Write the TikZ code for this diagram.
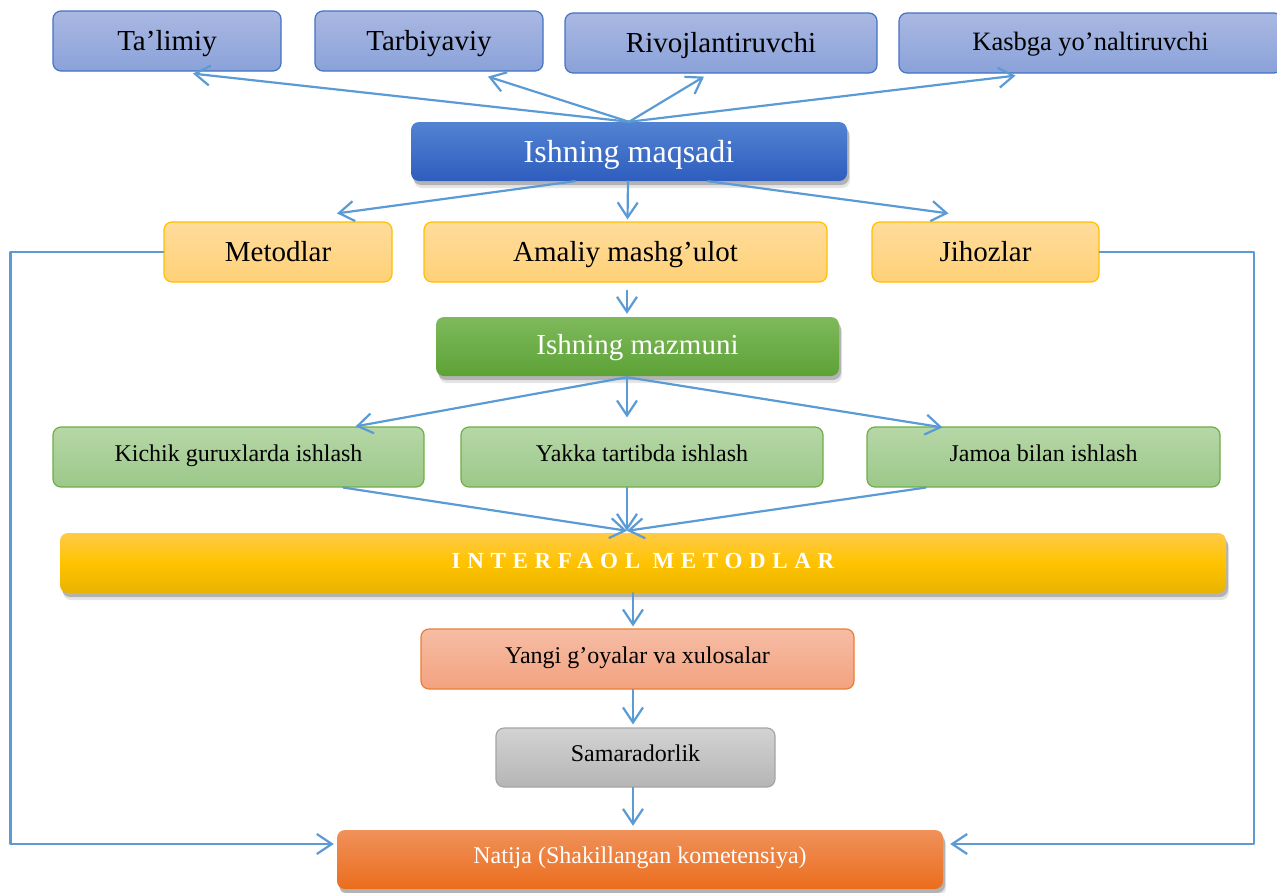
\documentclass[tikz,border=0pt]{standalone}
\usepackage{fontspec}
\setmainfont{Liberation Serif}
\usetikzlibrary{arrows.meta,shadows,calc}
\definecolor{arrowblue}{HTML}{5B9BD5}
\definecolor{lbtop}{HTML}{AAB8E2}
\definecolor{lbbot}{HTML}{8AA2D9}
\definecolor{lbdraw}{HTML}{4472C4}
\definecolor{dbtop}{HTML}{5283D2}
\definecolor{dbbot}{HTML}{2E5DBE}
\definecolor{ortop}{HTML}{FFDC9C}
\definecolor{orbot}{HTML}{FFD177}
\definecolor{ordraw}{HTML}{FFC000}
\definecolor{dgtop}{HTML}{7FB95C}
\definecolor{dgbot}{HTML}{5CA236}
\definecolor{lgtop}{HTML}{B6D7A7}
\definecolor{lgbot}{HTML}{9CC889}
\definecolor{lgdraw}{HTML}{70AD47}
\definecolor{ytop}{HTML}{FFCA48}
\definecolor{ymid}{HTML}{FFC300}
\definecolor{ybot}{HTML}{E8B200}
\definecolor{sntop}{HTML}{F5BDA5}
\definecolor{snbot}{HTML}{F4A27F}
\definecolor{sndraw}{HTML}{ED7D31}
\definecolor{grtop}{HTML}{D3D3D3}
\definecolor{grbot}{HTML}{B5B5B5}
\definecolor{grdraw}{HTML}{A5A5A5}
\definecolor{nttop}{HTML}{F0915A}
\definecolor{ntbot}{HTML}{EB6D1D}
\begin{document}
\begin{tikzpicture}[x=1pt,y=-1pt,
  box/.style={rounded corners=8pt, inner sep=0pt, align=center},
  bigtxt/.style={font=\fontsize{29}{34}\selectfont, text height=19.2pt, text depth=0pt},
  hugetxt/.style={font=\fontsize{32}{38}\selectfont, text height=21.2pt, text depth=0pt},
  smalltxt/.style={font=\fontsize{24}{29}\selectfont, text height=15.9pt, text depth=7pt},
  shad/.style={drop shadow={shadow xshift=3pt, shadow yshift=-7pt, opacity=0.10, fill=black},
               drop shadow={shadow xshift=2pt, shadow yshift=-4pt, opacity=0.22, fill=black}},
  topbox/.style={box, draw=lbdraw, line width=1.2pt, top color=lbtop, bottom color=lbbot},
  goalbox/.style={box, shad, top color=dbtop, bottom color=dbbot, text=white},
  orbox/.style={box, draw=ordraw, line width=1.2pt, top color=ortop, bottom color=orbot},
  contbox/.style={box, shad, top color=dgtop, bottom color=dgbot, text=white},
  lgbox/.style={box, draw=lgdraw, line width=1.2pt, top color=lgtop, bottom color=lgbot},
  intbox/.style={box, shad, top color=ytop, bottom color=ybot, middle color=ymid, text=white},
  snbox/.style={box, draw=sndraw, line width=1.2pt, top color=sntop, bottom color=snbot},
  grbox/.style={box, draw=grdraw, line width=1.2pt, top color=grtop, bottom color=grbot},
  resbox/.style={box, shad, top color=nttop, bottom color=ntbot, text=white},
  conn/.style={draw=arrowblue, line width=2.2pt, line cap=round, line join=round,
    -{Straight Barb[length=15pt,width=20pt]}}
]
\useasboundingbox (0,0) rectangle (1277,892);

% top row
\node[topbox, bigtxt, minimum width=228pt, minimum height=60pt] (talim) at (167,41) {Ta’limiy};
\node[topbox, bigtxt, minimum width=228pt, minimum height=60pt] (tarb) at (429,41) {Tarbiyaviy};
\node[topbox, bigtxt, minimum width=312pt, minimum height=60pt] (rivoj) at (721,43) {Rivojlantiruvchi};
\node[topbox, font=\fontsize{26.5}{31}\selectfont, text height=17.5pt, text depth=3pt, minimum width=383pt, minimum height=60pt] (kasb) at (1090.5,43) {Kasbga yo’naltiruvchi};

% goal
\node[goalbox, hugetxt, minimum width=436pt, minimum height=59pt] (maqsad) at (629,151.5) {Ishning maqsadi};

% orange row
\node[orbox, bigtxt, minimum width=228pt, minimum height=60pt] (metod) at (278,252) {Metodlar};
\node[orbox, bigtxt, minimum width=403pt, minimum height=60pt] (amaliy) at (625.5,252) {Amaliy mashg’ulot};
\node[orbox, bigtxt, minimum width=227pt, minimum height=60pt] (jihoz) at (985.5,252) {Jihozlar};

% content
\node[contbox, bigtxt, text depth=3pt, minimum width=403pt, minimum height=59pt] (mazmun) at (637.5,346.5) {Ishning mazmuni};

% light green row
\node[lgbox, smalltxt, minimum width=371pt, minimum height=60pt] (kichik) at (238.5,457) {Kichik guruxlarda ishlash};
\node[lgbox, smalltxt, minimum width=362pt, minimum height=60pt] (yakka) at (642,457) {Yakka tartibda ishlash};
\node[lgbox, smalltxt, minimum width=353pt, minimum height=60pt] (jamoa) at (1043.5,457) {Jamoa bilan ishlash};

% interfaol
\node[intbox, font=\fontsize{23}{27}\selectfont\bfseries, text height=15.2pt, text depth=5pt, minimum width=1166pt, minimum height=60pt] (interf) at (643,563) {\addfontfeature{LetterSpace=29}INTERFAOL METODLAR};

% lower chain
\node[snbox, smalltxt, minimum width=433pt, minimum height=60pt] (yangi) at (637.5,659) {Yangi g’oyalar va xulosalar};
\node[grbox, smalltxt, minimum width=279pt, minimum height=59pt] (sam) at (635.5,757.5) {Samaradorlik};
\node[resbox, smalltxt, minimum width=606pt, minimum height=59pt] (natija) at (640,859.5) {Natija (Shakillangan kometensiya)};

% connectors: goal to top row
\draw[conn] (maqsad.north) -- ($(talim.south)+(26,2)$);
\draw[conn] (maqsad.north) -- ($(tarb.south)+(59,5)$);
\draw[conn] (maqsad.north) -- ($(rivoj.south)+(-17,3)$);
\draw[conn] (maqsad.north) -- ($(kasb.south)+(-75,2)$);

% goal to orange row
\draw[conn] ($(maqsad.south)+(-54,0)$) -- ($(metod.north)+(59,-8)$);
\draw[conn] ($(maqsad.south)+(-1,0)$) -- ($(amaliy.north)+(2,-2)$);
\draw[conn] ($(maqsad.south)+(79,0)$) -- ($(jihoz.north)+(-37,-8)$);

% amaliy to content
\draw[conn] ($(amaliy.south)+(1.5,8)$) -- ($(mazmun.north)+(-10.5,-3)$);

% content to light green row
\draw[conn] ($(mazmun.south)+(-10.5,1)$) -- ($(kichik.north)+(117,0)$);
\draw[conn] ($(mazmun.south)+(-10.5,1)$) -- ($(yakka.north)+(-15,-9)$);
\draw[conn] ($(mazmun.south)+(-10.5,1)$) -- ($(jamoa.north)+(-101,1)$);

% light green row to interfaol
\draw[conn] ($(kichik.south)+(105,0)$) -- ($(interf.north)+(-16,-2)$);
\draw[conn] ($(yakka.south)+(-15,0)$) -- ($(interf.north)+(-16,-2)$);
\draw[conn] ($(jamoa.south)+(-118,0)$) -- ($(interf.north)+(-16,-2)$);

% chain
\draw[conn] ($(interf.south)+(-10,0)$) -- ($(yangi.north)+(-4.5,-2)$);
\draw[conn] ($(yangi.south)+(-4.5,0)$) -- ($(sam.north)+(-2.5,-3)$);
\draw[conn] ($(sam.south)+(-2.5,0)$) -- ($(natija.north)+(-7,-4)$);

% feedback lines
\draw[conn] (metod.west) -- ++(-153,0) |- ($(natija.west)+(-3,-15.5)$);
\draw[conn] (jihoz.east) -- ++(154,0) |- ($(natija.east)+(7,-15.5)$);
\end{tikzpicture}
\end{document}
